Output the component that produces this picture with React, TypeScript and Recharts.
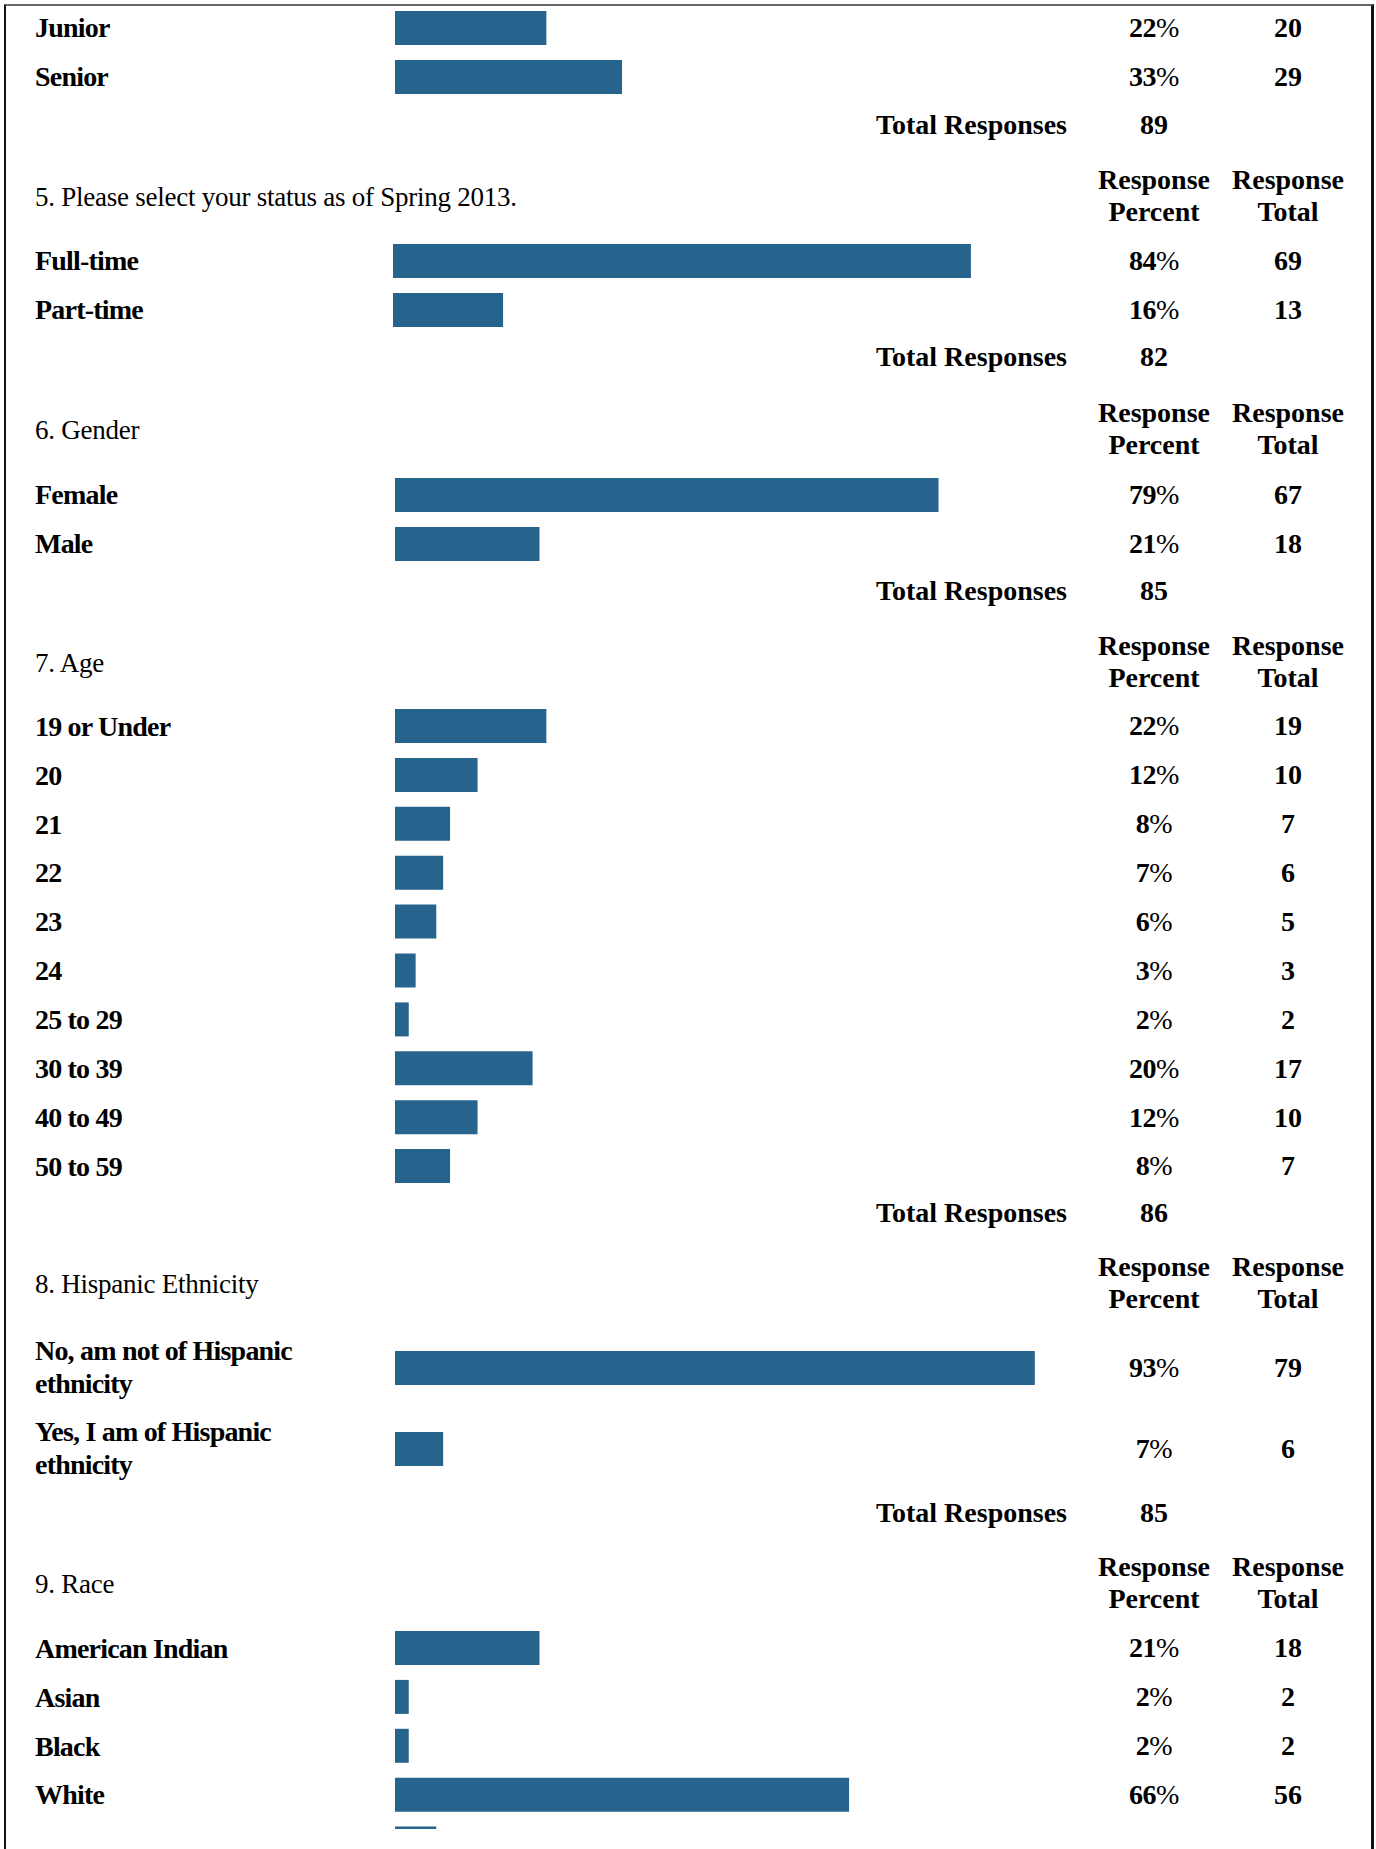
import React from 'react';
import { BarChart, Bar, XAxis, YAxis, LabelList } from 'recharts';

const BAR_COLOR = '#26648e';
const FONT = '"Liberation Serif", "Times New Roman", serif';

// 4. class standing (upper rows are cut off by the page)
const classLabels = ['Junior', 'Senior'];
const classPercent = [22, 33];
const classTotal = [20, 29];
const classResponses = 89;

// 5. status
const statusTitle = '5. Please select your status as of Spring 2013.';
const statusLabels = ['Full-time', 'Part-time'];
const statusPercent = [84, 16];
const statusTotal = [69, 13];
const statusResponses = 82;

// 6. gender
const genderTitle = '6. Gender';
const genderLabels = ['Female', 'Male'];
const genderPercent = [79, 21];
const genderTotal = [67, 18];
const genderResponses = 85;

// 7. age
const ageTitle = '7. Age';
const ageLabels = ['19 or Under', '20', '21', '22', '23', '24', '25 to 29', '30 to 39', '40 to 49', '50 to 59'];
const agePercent = [22, 12, 8, 7, 6, 3, 2, 20, 12, 8];
const ageTotal = [19, 10, 7, 6, 5, 3, 2, 17, 10, 7];
const ageResponses = 86;

// 8. hispanic ethnicity
const hispanicTitle = '8. Hispanic Ethnicity';
const hispanicLabels = ['No, am not of Hispanic ethnicity', 'Yes, I am of Hispanic ethnicity'];
const hispanicPercent = [93, 7];
const hispanicTotal = [79, 6];
const hispanicResponses = 85;

// 9. race (last row is cut off at the page bottom)
const raceTitle = '9. Race';
const raceLabels = ['American Indian', 'Asian', 'Black', 'White', ''];
const racePercent = [21, 2, 2, 66, 6];
const raceTotal: (number | null)[] = [18, 2, 2, 56, null];

const PAGE_W = 1376;
const LABEL_X = 35;
const BAR_X = 395;
const PLOT_W = 688;
const PCT_X = 1154;
const TOT_X = 1288;
const LABEL_MAX_W = 300;
const LABEL_SPACING = -0.8;

let measureCtx: CanvasRenderingContext2D | null = null;
const wrapWords = (s: string, maxW: number) => {
  if (!measureCtx) measureCtx = document.createElement('canvas').getContext('2d');
  if (!measureCtx) return [s];
  measureCtx.font = `bold 28px ${FONT}`;
  const lines: string[] = [];
  let cur = '';
  s.split(' ').forEach((w) => {
    const next = cur ? cur + ' ' + w : w;
    const width = measureCtx!.measureText(next).width + next.length * LABEL_SPACING;
    if (cur && width > maxW) {
      lines.push(cur);
      cur = w;
    } else {
      cur = next;
    }
  });
  lines.push(cur);
  return lines;
};

const makeLabelTick = (shift: number) => (props: any) => {
  const { y, payload } = props;
  const lines = wrapWords(String(payload.value ?? ''), LABEL_MAX_W);
  const lh = 33;
  const first = y - ((lines.length - 1) * lh) / 2 + 9.3;
  return (
    <text
      x={LABEL_X - shift}
      y={first}
      textAnchor="start"
      fontFamily={FONT}
      fontSize={28}
      fontWeight="bold"
      letterSpacing={LABEL_SPACING}
      fill="#000"
    >
      {lines.map((l, i) => (
        <tspan key={i} x={LABEL_X - shift} y={first + i * lh}>
          {l}
        </tspan>
      ))}
    </text>
  );
};

const midY = (props: any) => {
  const vb = props.viewBox || props;
  return vb.y + vb.height / 2;
};

type SectionProps = {
  title?: string;
  titleY?: number;
  labels: string[];
  percents: number[];
  totals: (number | null)[];
  responses?: number;
  totalY?: number;
  firstRowY: number;
  pitch: number;
  barLeft?: number;
  clipBottom?: number;
};

const Section = ({ title, titleY, labels, percents, totals, responses, totalY, firstRowY, pitch, barLeft = BAR_X, clipBottom }: SectionProps) => {
  const data = labels.map((label, i) => ({ label, percent: percents[i], total: totals[i] }));
  const chartH = labels.length * pitch;
  const chartTop = firstRowY - pitch / 2;
  const boxH = clipBottom ? clipBottom - chartTop : chartH;
  const shift = barLeft - BAR_X;
  const text: React.CSSProperties = { position: 'absolute', fontFamily: FONT, fontSize: 28, color: '#000' };

  const PercentLabel = (props: any) => {
    const row = data[props.index];
    if (!row || row.total == null) return null;
    return (
      <text x={PCT_X - shift} y={midY(props) + 9.3} textAnchor="middle" fontFamily={FONT} fontSize={28} letterSpacing={-0.5} fill="#000">
        <tspan fontWeight="bold">{props.value}</tspan>
        <tspan>%</tspan>
      </text>
    );
  };

  const TotalLabel = (props: any) => {
    if (props.value == null) return null;
    return (
      <text x={TOT_X - shift} y={midY(props) + 9.3} textAnchor="middle" fontFamily={FONT} fontSize={28} fontWeight="bold" fill="#000">
        {props.value}
      </text>
    );
  };

  return (
    <>
      {title && titleY !== undefined && (
        <>
          <div style={{ ...text, left: LABEL_X, top: titleY - 14, fontSize: 27, letterSpacing: -0.25, lineHeight: '28px', whiteSpace: 'nowrap' }}>{title}</div>
          <div style={{ ...text, left: PCT_X - 80, width: 160, top: titleY - 33, lineHeight: '32px', textAlign: 'center', fontWeight: 'bold' }}>
            Response<br />Percent
          </div>
          <div style={{ ...text, left: TOT_X - 80, width: 160, top: titleY - 33, lineHeight: '32px', textAlign: 'center', fontWeight: 'bold' }}>
            Response<br />Total
          </div>
        </>
      )}
      <div style={{ position: 'absolute', left: shift, top: chartTop, width: PAGE_W, height: boxH, overflow: 'hidden' }}>
        <BarChart
          width={PAGE_W}
          height={chartH}
          data={data}
          layout="vertical"
          margin={{ top: 0, right: PAGE_W - BAR_X - PLOT_W, bottom: 0, left: 0 }}
        >
          <XAxis type="number" domain={[0, 100]} hide />
          <YAxis
            type="category"
            dataKey="label"
            width={BAR_X}
            axisLine={false}
            tickLine={false}
            interval={0}
            tick={makeLabelTick(shift)}
          />
          <Bar dataKey="percent" fill={BAR_COLOR} barSize={34} isAnimationActive={false}>
            <LabelList dataKey="percent" content={PercentLabel} />
            <LabelList dataKey="total" content={TotalLabel} />
          </Bar>
        </BarChart>
      </div>
      {responses !== undefined && totalY !== undefined && (
        <>
          <div style={{ ...text, left: 0, width: 1067, top: totalY - 14, lineHeight: '28px', textAlign: 'right', fontWeight: 'bold' }}>
            Total Responses
          </div>
          <div style={{ ...text, left: PCT_X - 60, width: 120, top: totalY - 14, lineHeight: '28px', textAlign: 'center', fontWeight: 'bold' }}>
            {responses}
          </div>
        </>
      )}
    </>
  );
};

export default function App() {
  return (
    <div style={{ position: 'absolute', left: 0, top: 0, width: PAGE_W, height: 1849, background: '#fff', overflow: 'hidden' }}>
      <div
        style={{
          position: 'absolute',
          left: 4,
          top: 4,
          width: 1370,
          height: 2000,
          boxSizing: 'border-box',
          borderLeft: '2px solid #111',
          borderRight: '3px solid #111',
          borderTop: '2px solid #666',
        }}
      />
      <Section labels={classLabels} percents={classPercent} totals={classTotal} responses={classResponses} totalY={125} firstRowY={27} pitch={49} />
      <Section title={statusTitle} titleY={197} labels={statusLabels} percents={statusPercent} totals={statusTotal} responses={statusResponses} totalY={357} firstRowY={260} pitch={49} barLeft={393} />
      <Section title={genderTitle} titleY={430} labels={genderLabels} percents={genderPercent} totals={genderTotal} responses={genderResponses} totalY={591} firstRowY={494} pitch={49} />
      <Section title={ageTitle} titleY={663} labels={ageLabels} percents={agePercent} totals={ageTotal} responses={ageResponses} totalY={1213} firstRowY={726} pitch={48.9} />
      <Section title={hispanicTitle} titleY={1284} labels={hispanicLabels} percents={hispanicPercent} totals={hispanicTotal} responses={hispanicResponses} totalY={1513} firstRowY={1367} pitch={81} />
      <Section title={raceTitle} titleY={1584} labels={raceLabels} percents={racePercent} totals={raceTotal} firstRowY={1648} pitch={48.9} clipBottom={1829} />
    </div>
  );
}
